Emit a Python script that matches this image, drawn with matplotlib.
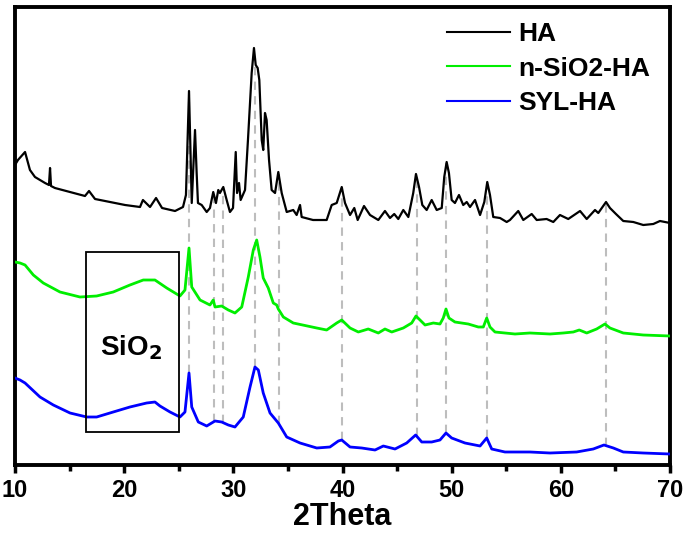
import numpy as np
import matplotlib
matplotlib.use("Agg")
import matplotlib.pyplot as plt
from matplotlib.patches import Rectangle

# ---- data (2theta in degrees, intensity in arbitrary units incl. offsets) ----
ha_x = [10.0, 10.27, 10.92, 11.37, 11.83, 12.75, 13.11, 13.21, 13.30, 13.66, 15.04, 16.41, 16.78, 17.33,
        18.70, 20.08, 21.45, 21.72, 22.37, 22.92, 23.47, 24.66, 25.39, 25.66, 25.94, 26.19, 26.49, 26.64,
        26.76, 27.10, 27.56, 27.86, 28.16, 28.41, 28.62, 28.77, 29.08, 29.39, 29.69, 29.97, 30.22, 30.34,
        30.52, 30.67, 31.07, 31.34, 31.68, 31.89, 32.05, 32.23, 32.38, 32.60, 32.74, 32.90, 33.05, 33.27,
        33.51, 33.82, 34.12, 34.43, 34.89, 35.49, 35.80, 36.11, 36.26, 37.30, 38.55, 39.01, 39.47, 39.93,
        40.23, 40.69, 41.08, 41.39, 41.97, 42.52, 43.28, 43.89, 44.35, 44.74, 45.11, 45.57, 46.03, 46.48,
        46.73, 47.01, 47.31, 47.71, 48.17, 48.63, 49.09, 49.32, 49.54, 49.75, 50.00, 50.30, 50.67, 51.06,
        51.38, 51.68, 52.14, 52.60, 52.99, 53.26, 53.51, 53.81, 54.43, 55.04, 55.34, 56.10, 56.56, 57.33,
        57.79, 58.70, 59.31, 59.92, 60.68, 61.76, 62.37, 63.13, 63.43, 64.14, 64.50, 65.05, 65.72, 66.64,
        67.55, 68.47, 69.08, 70.0]
ha_y = [300, 305, 313, 295, 288, 282, 280, 297, 279, 277, 273, 269, 274, 266,
        263, 260, 258, 265, 258, 267, 257, 254, 258, 270, 374, 262, 335, 292,
        262, 260, 253, 257, 273, 262, 275, 272, 278, 265, 253, 257, 313, 272,
        282, 265, 275, 325, 392, 417, 400, 397, 385, 325, 315, 352, 345, 305,
        275, 272, 293, 272, 253, 255, 250, 260, 248, 245, 245, 260, 262, 278,
        262, 250, 257, 245, 259, 250, 245, 254, 247, 251, 246, 255, 248, 272,
        291, 278, 260, 255, 265, 255, 257, 288, 303, 292, 265, 262, 270, 260,
        263, 258, 265, 250, 263, 283, 270, 248, 247, 243, 245, 254, 245, 251,
        245, 246, 243, 250, 246, 254, 246, 255, 252, 263, 257, 251, 244, 243,
        240, 241, 244, 242]

nsio2_x = [10.0, 10.46, 10.92, 11.68, 12.59, 14.12, 15.95, 17.48, 19.00, 20.53, 21.75, 22.82, 23.90,
           25.11, 25.57, 25.94, 26.19, 26.95, 27.86, 28.16, 28.32, 28.93, 29.54, 30.15, 30.77, 31.37,
           31.83, 32.14, 32.44, 32.74, 33.20, 33.66, 33.97, 34.12, 34.58, 35.49, 37.64, 38.55, 39.47,
           39.93, 40.69, 41.45, 42.36, 43.28, 43.89, 44.51, 45.57, 46.34, 46.73, 47.10, 47.56, 48.32,
           48.93, 49.23, 49.48, 49.75, 50.30, 51.52, 52.44, 52.90, 53.21, 53.51, 53.97, 54.88, 55.80,
           57.17, 59.01, 60.22, 61.14, 61.69, 62.37, 63.28, 64.04, 64.50, 65.72, 67.55, 70.0]
nsio2_y = [203, 202, 200, 190, 182, 173, 168, 169, 173, 180, 185, 185, 177,
           169, 175, 217, 178, 165, 160, 165, 158, 159, 155, 152, 158, 188,
           215, 225, 208, 187, 177, 162, 160, 156, 148, 142, 137, 135, 142,
           145, 137, 133, 136, 132, 136, 133, 137, 142, 149, 145, 140, 142,
           141, 147, 156, 147, 143, 141, 138, 138, 147, 138, 133, 132, 131,
           132, 131, 132, 133, 135, 132, 136, 141, 137, 132, 130, 129]

syl_x = [10.0, 10.46, 10.92, 12.29, 13.51, 15.04, 16.57, 17.48, 19.00, 20.53, 22.06, 22.82, 23.28,
         24.20, 25.11, 25.57, 25.94, 26.19, 26.79, 27.56, 28.32, 28.93, 29.54, 30.15, 30.91, 31.53,
         31.98, 32.29, 32.74, 33.36, 34.12, 34.89, 36.11, 37.64, 38.85, 39.62, 39.93, 40.69, 41.76,
         42.98, 43.74, 44.81, 45.88, 46.70, 47.26, 48.17, 48.93, 49.48, 50.00, 51.22, 52.60, 53.21,
         53.67, 54.88, 57.17, 59.01, 61.45, 62.97, 63.95, 64.81, 65.72, 67.55, 70.0]
syl_y = [87, 85, 82, 68, 60, 52, 48, 48, 53, 58, 62, 63, 59,
         53, 48, 53, 92, 58, 43, 39, 44, 43, 40, 38, 48, 78,
         98, 95, 72, 52, 42, 28, 22, 17, 18, 24, 25, 18, 17,
         15, 19, 16, 22, 30, 23, 23, 25, 32, 27, 22, 19, 27,
         16, 13, 13, 12, 13, 16, 20, 17, 13, 12, 11]

peak_positions = [25.94, 28.2, 29.08, 31.98, 34.15, 39.93, 46.78, 49.52, 53.2, 64.1]
series_labels = ["HA", "n-SiO2-HA", "SYL-HA"]
series_colors = ["#000000", "#00ee00", "#0000ff"]
xticks = [10, 20, 30, 40, 50, 60, 70]
sio2_box_x = (16.5, 25.05)
sio2_box_y = (33, 213)

# ---- figure ----
fig = plt.figure(figsize=(6.85, 5.39), dpi=100)
ax = fig.add_axes([15 / 685, 1 - 465 / 539, 655 / 685, 458 / 539])

narrow = ['Liberation Sans Narrow', 'Liberation Sans', 'DejaVu Sans']
regular = ['Liberation Sans', 'DejaVu Sans']

# dashed guide lines between HA and SYL-HA traces
for p in peak_positions:
    top = np.interp(p, ha_x, ha_y)
    bot = np.interp(p, syl_x, syl_y)
    ax.vlines(p, bot, top, colors="#bdbdbd", linestyles=(0, (4, 3)), linewidth=1.5, zorder=1)

ax.plot(ha_x, ha_y, color=series_colors[0], lw=1.6, label=series_labels[0], zorder=3)
ax.plot(nsio2_x, nsio2_y, color=series_colors[1], lw=2.0, label=series_labels[1], zorder=3)
ax.plot(syl_x, syl_y, color=series_colors[2], lw=2.0, label=series_labels[2], zorder=3)

ax.add_patch(Rectangle((sio2_box_x[0], sio2_box_y[0]), sio2_box_x[1] - sio2_box_x[0],
                       sio2_box_y[1] - sio2_box_y[0], fill=False, edgecolor="black", lw=1.3, zorder=4))
ax.text(20.6, 117, "SiO$_\\mathbf{2}$", fontsize=20, fontweight="bold", family=regular,
        ha="center", va="center", zorder=5)

ax.set_xlim(10, 70)
ax.set_ylim(0, 458)
ax.set_xticks(xticks)
ax.set_xticks(np.arange(15, 70, 10), minor=True)
ax.set_yticks([])
ax.tick_params(axis="x", which="major", direction="out", length=6, width=2.5, pad=4)
ax.tick_params(axis="x", which="minor", direction="out", length=4, width=2.5)
for lab in ax.get_xticklabels():
    lab.set_fontfamily(narrow)
    lab.set_fontweight("bold")
    lab.set_fontsize(17)
for s in ax.spines.values():
    s.set_linewidth(2.8)

ax.set_xlabel("2Theta", fontsize=22, fontweight="bold", family=narrow, labelpad=0)

leg = ax.legend(loc="upper left", bbox_to_anchor=((447 - 15) / 655, (465 - 22) / 458),
                frameon=False, handlelength=2.4, handletextpad=0.3, labelspacing=0.4,
                borderaxespad=0, borderpad=0,
                prop={"family": regular, "weight": "bold", "size": 19})
for h in leg.get_lines():
    h.set_linewidth(1.5)

fig.savefig("out.png", dpi=100)
